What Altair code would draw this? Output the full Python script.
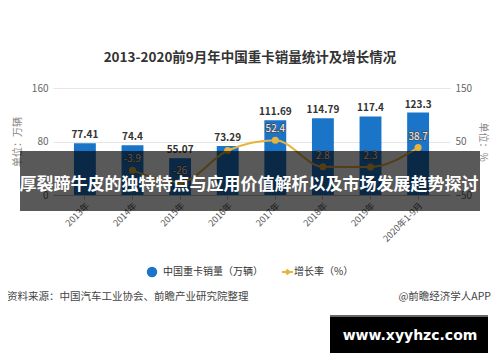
import altair as alt
import pandas as pd

FONT = "Noto Sans CJK SC"

years = ["2013年", "2014年", "2015年", "2016年", "2017年", "2018年", "2019年", "2020年1-9月"]
sales = [77.41, 74.4, 55.07, 73.29, 111.69, 114.79, 117.4, 123.3]
growth_years = ["2014年", "2015年", "2016年", "2017年", "2018年", "2019年", "2020年1-9月"]
growth = [-3.9, -26, 33.1, 52.4, 2.8, 2.3, 38.7]
growth_labels = ["-3.9", "-26", "", "52.4", "2.8", "2.3", "38.7"]

chart_title = "2013-2020前9月年中国重卡销量统计及增长情况"
left_unit = "单位：万辆"
right_unit = "单位：%"
legend_bar = "中国重卡销量（万辆）"
legend_line = "增长率（%）"
source_text = "资料来源：中国汽车工业协会、前瞻产业研究院整理"
credit_text = "@前瞻经济学人APP"
overlay_text = "厚裂蹄牛皮的独特特点与应用价值解析以及市场发展趋势探讨"
site_text = "www.xyyhzc.com"

BLUE = "#1a75c9"
GOLD = "#e8b33a"

W, H = 397, 107

bar_df = pd.DataFrame({"year": years, "sales": sales})
line_df = pd.DataFrame({"year": growth_years, "growth": growth, "label": growth_labels})

xscale = alt.Scale(domain=years, paddingInner=0.54, paddingOuter=0.44)
x_enc = alt.X("year:N", scale=xscale, sort=years,
              axis=alt.Axis(title=None, labelAngle=-45, labelFontSize=9, labelColor="#555",
                            labelFont=FONT, domainColor="#bbb", tickColor="#bbb", tickSize=4,
                            labelPadding=2, grid=False))

y_left = alt.Y("sales:Q", scale=alt.Scale(domain=[0, 160]),
               axis=alt.Axis(values=[0, 80, 160], title=None, domain=False, ticks=False,
                             gridColor="#e6e6e6", labelColor="#666", labelFontSize=10,
                             labelPadding=5, labelFont=FONT))
y_right = alt.Y("growth:Q", scale=alt.Scale(domain=[-50, 150]),
                axis=alt.Axis(orient="right", values=[-50, 50, 150], title=None, domain=False,
                              ticks=False, grid=False, labelColor="#666", labelFontSize=10,
                              labelPadding=5, labelFont=FONT))

bars = alt.Chart(bar_df).mark_bar(color=BLUE).encode(x=x_enc, y=y_left)
bar_text = alt.Chart(bar_df).mark_text(baseline="bottom", dy=-3, fontSize=10, fontWeight="bold",
                                       color="#333", font=FONT).encode(
    x=x_enc, y=y_left, text=alt.Text("sales:Q"))

line = alt.Chart(line_df).mark_line(color=GOLD, strokeWidth=2, interpolate="monotone").encode(
    x=x_enc, y=y_right)
pts = alt.Chart(line_df).mark_point(filled=True, size=50, color=GOLD, opacity=1).encode(
    x=x_enc, y=y_right)
lab_bg = alt.Chart(line_df).mark_text(dy=-11, fontSize=10, fill="#4a4a4a", stroke="#4a4a4a",
                                      strokeWidth=1.4, font=FONT).encode(
    x=x_enc, y=y_right, text="label:N")
lab_fg = alt.Chart(line_df).mark_text(dy=-11, fontSize=10, fill="#f4f4f4", font=FONT).encode(
    x=x_enc, y=y_right, text="label:N")

left_layer = alt.layer(bars, bar_text)
right_layer = alt.layer(line, pts, lab_bg, lab_fg)


def txt(s, x, y, **kw):
    base = dict(font=FONT)
    base.update(kw)
    return alt.Chart(pd.DataFrame({"t": [s]})).mark_text(**base).encode(
        x=alt.value(x), y=alt.value(y), text="t:N")


one = pd.DataFrame({"k": [0]})

title_t = txt(chart_title, 197, -30, fontSize=13.5, fontWeight="bold", color="#333")
lunit = txt(left_unit, -35, 54, fontSize=10, color="#888", angle=270, baseline="middle")
runit = txt(right_unit, 430, 54, fontSize=10, color="#888", angle=90, baseline="middle")

leg_circle = alt.Chart(one).mark_point(shape="circle", filled=True, size=110, color=BLUE,
                                       opacity=1).encode(x=alt.value(99), y=alt.value(184))
leg_t1 = txt(legend_bar, 110, 184, fontSize=10, color="#333", align="left")
leg_rule = alt.Chart(one).mark_rule(color=GOLD, strokeWidth=2).encode(
    x=alt.value(229), x2=alt.value(240), y=alt.value(184))
leg_dia = alt.Chart(one).mark_point(shape="diamond", filled=True, size=45, color=GOLD,
                                    opacity=1).encode(x=alt.value(234.5), y=alt.value(184))
leg_t2 = txt(legend_line, 241, 184, fontSize=10, color="#333", align="left")

src = txt(source_text, -46, 209, fontSize=10.5, color="#444", align="left")
credit = txt(credit_text, 438, 209, fontSize=10.5, color="#444", align="right")

overlay = alt.Chart(one).mark_rect(color="black", opacity=0.65).encode(
    x=alt.value(20 - 53), x2=alt.value(480 - 53), y=alt.value(151 - 88), y2=alt.value(211 - 88))
overlay_t = txt(overlay_text, 196, 97, fontSize=17, fontWeight="bold", color="white")

site_box = alt.Chart(one).mark_rect(color="black").encode(
    x=alt.value(277), x2=alt.value(435), y=alt.value(228), y2=alt.value(265))
site_rule = alt.Chart(one).mark_rule(color="#666", strokeWidth=2).encode(
    x=alt.value(277), x2=alt.value(435), y=alt.value(228))
site_t = txt(site_text, 357, 248, fontSize=14, fontWeight="bold", color="white",
             font="DejaVu Sans")

chart = alt.layer(
    left_layer, right_layer,
    title_t, lunit, runit,
    leg_circle, leg_t1, leg_rule, leg_dia, leg_t2,
    src, credit,
    overlay, overlay_t,
    site_box, site_rule, site_t,
).resolve_scale(y="independent").properties(
    width=W, height=H,
    autosize=alt.AutoSizeParams(type="none"),
    padding={"left": 45, "top": 80, "right": 42, "bottom": 159},
    background="white",
).configure_view(stroke=None)

chart.save("out.html", embed_options={"renderer": "svg", "actions": False})
